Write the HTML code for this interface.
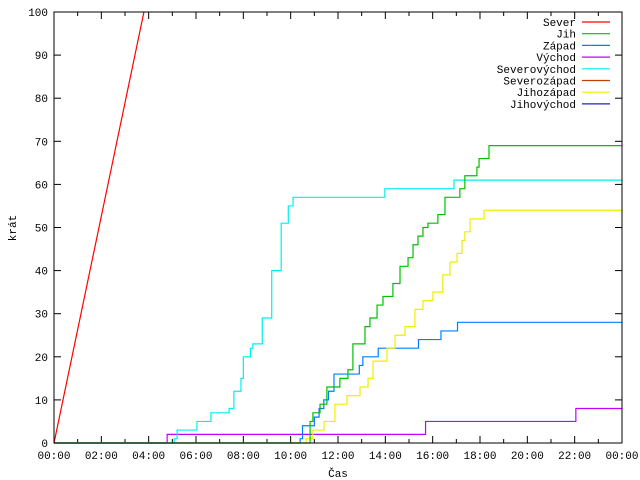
<!DOCTYPE html>
<html><head><meta charset="utf-8"><style>
body{margin:0;background:#fff}
svg{display:block}
text{font-family:"Liberation Mono","DejaVu Sans Mono",monospace;font-size:11px;fill:#000}
</style></head><body>
<svg id="chart" width="640" height="480" viewBox="0 0 640 480" xmlns="http://www.w3.org/2000/svg">
<rect x="0" y="0" width="640" height="480" fill="#fff"/>
<g id="grid"></g>
<g id="series"></g>
<rect x="54" y="12" width="568" height="431" fill="none" stroke="#000" stroke-width="1"/>
<g id="legend"></g>
<text transform="translate(16,228) rotate(-90)" text-anchor="middle">krát</text>
<text x="338" y="477" text-anchor="middle">Čas</text>
</svg>
<script>
const seriesNames = ["Sever","Jih","Západ","Východ","Severovýchod","Severozápad","Jihozápad","Jihovýchod"];
const seriesColors = ["#ff0000","#00c000","#0080ff","#c000ff","#00eeee","#c04000","#eeee00","#2020c0"];
const xTickLabels = ["00:00","02:00","04:00","06:00","08:00","10:00","12:00","14:00","16:00","18:00","20:00","22:00","00:00"];
const yTickLabels = [0,10,20,30,40,50,60,70,80,90,100];
const severData = [[0,0],[3.8,100]];
const jihData = [[0,0],[10.69,0],[10.82,5],[10.94,7],[11.24,9],[11.53,13],[12.08,15],[12.42,17],[12.63,23],[13.14,27],[13.35,29],[13.65,32],[13.9,34],[14.32,37],[14.62,41],[14.96,43],[15.17,46],[15.38,48],[15.59,50],[15.8,51],[16.22,53],[16.52,57],[17.15,59],[17.36,62],[17.87,64],[17.96,66],[18.38,69],[24,69]];
const zapadData = [[0,0],[10.35,0],[10.4,1],[10.5,4],[11.0,6],[11.2,8],[11.4,10],[11.6,12],[11.83,16],[12.9,18],[13.05,20],[13.7,22],[15.4,24],[16.35,26],[17.05,28],[24,28]];
const vychodData = [[0,0],[4.73,0],[4.78,2],[15.7,5],[22.05,8],[24,8]];
const severovychodData = [[0,0],[5.03,0],[5.08,1],[5.2,3],[6.04,5],[6.63,7],[7.4,8],[7.6,12],[7.9,15],[8.0,20],[8.3,22],[8.4,23],[8.8,29],[9.2,40],[9.6,51],[9.9,55],[10.1,57],[13.98,59],[16.9,61],[24,61]];
const jihozapadData = [[0,0],[10.6,0],[10.65,1],[10.94,3],[11.41,5],[11.87,9],[12.38,11],[12.93,13],[13.27,15],[13.48,19],[14.07,22],[14.41,25],[14.83,27],[15.25,31],[15.59,33],[16.01,35],[16.43,39],[16.73,42],[17.03,44],[17.24,47],[17.36,49],[17.58,52],[18.17,54],[24,54]];

const X0=54,X1=622,Y0=443,Y1=12;
const xs=h=>X0+h/24*(X1-X0);
const ys=v=>Y0-v/100*(Y0-Y1);
const NS="http://www.w3.org/2000/svg";
const svg=document.getElementById('chart');
const grid=document.getElementById('grid');
function mk(tag,attrs,parent){const e=document.createElementNS(NS,tag);for(const k in attrs)e.setAttribute(k,attrs[k]);parent.appendChild(e);return e;}

for(let h=0;h<=24;h++){
  const x=xs(h), len=(h%2===0)?7:4;
  const t=mk('line',{x1:x,x2:x,y1:Y0,y2:Y0-len,stroke:'#000'},grid);
  
  
  const t2=mk('line',{x1:x,x2:x,y1:Y1,y2:Y1+len,stroke:'#000'},grid);
  
  
}
xTickLabels.forEach((lab,i)=>{
  const tx=mk('text',{x:xs(i*2),y:Y0+16,'text-anchor':'middle'},grid);
  tx.textContent=lab;
  
  
});
yTickLabels.forEach(v=>{
  const y=ys(v);
  const t=mk('line',{x1:X0,x2:X0+7,y1:y,y2:y,stroke:'#000'},grid);
  
  
  const t2=mk('line',{x1:X1,x2:X1-7,y1:y,y2:y,stroke:'#000'},grid);
  
  
  const tx=mk('text',{x:X0-6,y:y+4,'text-anchor':'end'},grid);
  tx.textContent=v;
  
  
});

const ser=document.getElementById('series');
function stepPath(d){let p='M'+xs(d[0][0])+','+ys(d[0][1]);for(let i=1;i<d.length;i++){p+=' H'+xs(d[i][0])+' V'+ys(d[i][1]);}return p;}
function linePath(d){return d.map((p,i)=>(i?'L':'M')+xs(p[0])+','+ys(p[1])).join(' ');}
const plotted=[[vychodData,3,'series-vychod',true],[severovychodData,4,'series-severovychod',true],[zapadData,2,'series-zapad',true],[jihozapadData,6,'series-jihozapad',true],[jihData,1,'series-jih',true],[severData,0,'series-sever',false]];
plotted.forEach(([d,ci,name,step])=>{
  const p=mk('path',{d:step?stepPath(d):linePath(d),fill:'none',stroke:seriesColors[ci],'stroke-width':1.2},ser);
  
  
});

const leg=document.getElementById('legend');
seriesNames.forEach((n,i)=>{
  const y=22+i*11.7;
  const tx=mk('text',{x:576,y:y+4,'text-anchor':'end'},leg);
  tx.textContent=n;
  
  
  const l=mk('line',{x1:582,x2:610,y1:y,y2:y,stroke:seriesColors[i],'stroke-width':1.2},leg);
  
  
});
</script>
</body></html>
